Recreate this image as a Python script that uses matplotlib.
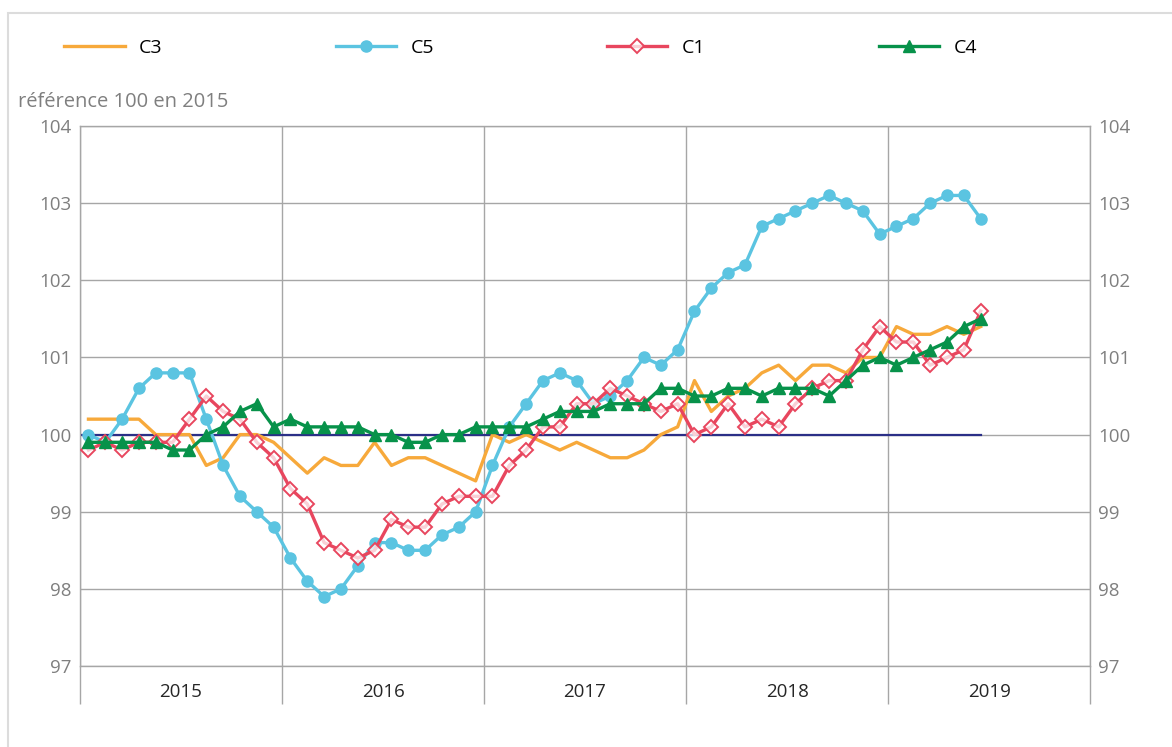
import matplotlib
matplotlib.use("Agg")
import matplotlib.pyplot as plt
from matplotlib.patches import Rectangle

plt.rcParams['font.family'] = ['Open Sans', 'DejaVu Sans']

# monthly index, Jan 2015 -> Jun 2019
years = ['2015', '2016', '2017', '2018', '2019']

c3 = [100.2, 100.2, 100.2, 100.2, 100.0, 100.0, 100.0, 99.6, 99.7, 100.0,
      100.0, 99.9, 99.7, 99.5, 99.7, 99.6, 99.6, 99.9, 99.6, 99.7,
      99.7, 99.6, 99.5, 99.4, 100.0, 99.9, 100.0, 99.9, 99.8, 99.9,
      99.8, 99.7, 99.7, 99.8, 100.0, 100.1, 100.7, 100.3, 100.5, 100.6,
      100.8, 100.9, 100.7, 100.9, 100.9, 100.8, 101.0, 101.0, 101.4, 101.3,
      101.3, 101.4, 101.3, 101.4]

c5 = [100.0, 99.9, 100.2, 100.6, 100.8, 100.8, 100.8, 100.2, 99.6, 99.2,
      99.0, 98.8, 98.4, 98.1, 97.9, 98.0, 98.3, 98.6, 98.6, 98.5,
      98.5, 98.7, 98.8, 99.0, 99.6, 100.1, 100.4, 100.7, 100.8, 100.7,
      100.4, 100.5, 100.7, 101.0, 100.9, 101.1, 101.6, 101.9, 102.1, 102.2,
      102.7, 102.8, 102.9, 103.0, 103.1, 103.0, 102.9, 102.6, 102.7, 102.8,
      103.0, 103.1, 103.1, 102.8]

c1 = [99.8, 99.9, 99.8, 99.9, 99.9, 99.9, 100.2, 100.5, 100.3, 100.2,
      99.9, 99.7, 99.3, 99.1, 98.6, 98.5, 98.4, 98.5, 98.9, 98.8,
      98.8, 99.1, 99.2, 99.2, 99.2, 99.6, 99.8, 100.1, 100.1, 100.4,
      100.4, 100.6, 100.5, 100.4, 100.3, 100.4, 100.0, 100.1, 100.4, 100.1,
      100.2, 100.1, 100.4, 100.6, 100.7, 100.7, 101.1, 101.4, 101.2, 101.2,
      100.9, 101.0, 101.1, 101.6]

c4 = [99.9, 99.9, 99.9, 99.9, 99.9, 99.8, 99.8, 100.0, 100.1, 100.3,
      100.4, 100.1, 100.2, 100.1, 100.1, 100.1, 100.1, 100.0, 100.0, 99.9,
      99.9, 100.0, 100.0, 100.1, 100.1, 100.1, 100.1, 100.2, 100.3, 100.3,
      100.3, 100.4, 100.4, 100.4, 100.6, 100.6, 100.5, 100.5, 100.6, 100.6,
      100.5, 100.6, 100.6, 100.6, 100.5, 100.7, 100.9, 101.0, 100.9, 101.0,
      101.1, 101.2, 101.4, 101.5]

months = list(range(len(c3)))
ref = [100] * len(c3)

fig = plt.figure(figsize=(11.72, 7.47), dpi=100)
ax = fig.add_axes([0.0683, 0.1084, 0.8618, 0.7229])

# reference line at 100
ax.plot([-0.5] + months, [100] + ref, color='#2b2f87', lw=1.6, zorder=2)

ax.plot(months, c3, color='#f7a93b', lw=2.4, label='C3', zorder=3)
ax.plot(months, c5, color='#5bc4e1', lw=2.4, marker='o', markersize=8,
        label='C5', zorder=4)
ax.plot(months, c1, color='#e8465e', lw=2.4, marker='D', markersize=7,
        markerfacecolor=(1, 1, 1, 0.75), markeredgecolor='#e8465e',
        markeredgewidth=1.4, label='C1', zorder=5)
ax.plot(months, c4, color='#07924a', lw=2.4, marker='^', markersize=9,
        label='C4', zorder=6)

ax.set_xlim(-0.5, 59.5)
ax.set_ylim(97, 104)
ax.set_yticks(range(97, 105))

bounds = [-0.5 + 12 * k for k in range(6)]
centers = [5.5 + 12 * k for k in range(5)]
ax.set_xticks(bounds)
ax.set_xticklabels([])
ax.set_xticks(centers, minor=True)
ax.set_xticklabels(years, minor=True)
ax.tick_params(axis='x', which='major', length=27, color='#a6a6a6', width=1)
ax.tick_params(axis='x', which='minor', length=0, pad=12, labelsize=13.5,
               labelcolor='#262626')
ax.tick_params(axis='y', length=0, pad=6, labelsize=13.5, labelcolor='#7f7f7f',
               labelright=True)

ax.grid(True, which='major', color='#a6a6a6', lw=1, zorder=0)
ax.set_axisbelow(True)
for s in ax.spines.values():
    s.set_color('#a6a6a6')
    s.set_linewidth(1)

fig.text(0.0154, 0.857, 'référence 100 en 2015', fontsize=14.5,
         color='#7f7f7f', ha='left', va='baseline')

fig.legend(loc='center left', bbox_to_anchor=(0.040, 0.936), ncol=4,
           frameon=False, fontsize=14, handlelength=3.1, handletextpad=0.75,
           columnspacing=8.9)

fig.patches.append(Rectangle((8 / 1172, -0.05), 1.2, 1.05 - 13 / 747,
                             transform=fig.transFigure, fill=False,
                             ec='#dcdcdc', lw=1.5))

fig.savefig('out.png', dpi=100)
